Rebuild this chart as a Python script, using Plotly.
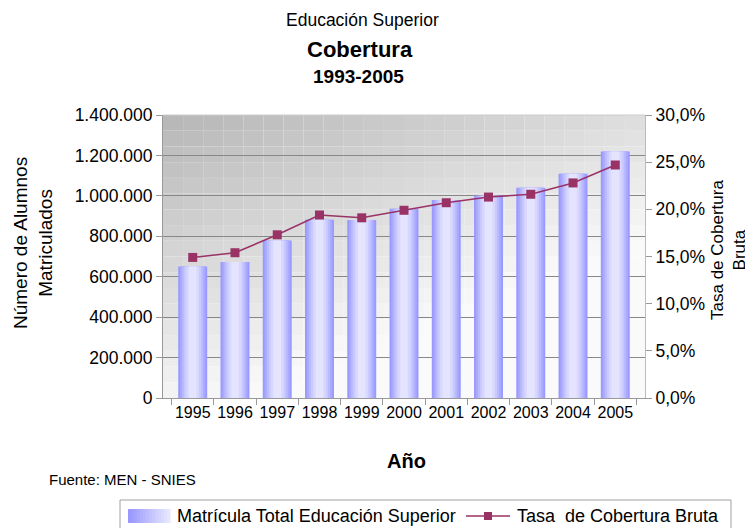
import plotly.graph_objects as go

years = ["1995", "1996", "1997", "1998", "1999", "2000", "2001", "2002", "2003", "2004", "2005"]
matricula = [651000, 673000, 779000, 882000, 880000, 936000, 980000, 1000000, 1040000, 1109000, 1219000]
tasa = [0.149, 0.154, 0.173, 0.194, 0.191, 0.199, 0.207, 0.213, 0.216, 0.228, 0.247]

FONT = "Liberation Sans"
OFF = 8  # default page body margin
W, H = 753 - OFF, 528 - OFF
# plot-area edges in screenshot pixels
L, R, T, B = 163, 645, 115, 398

def px(x):
    return (x - L) / (R - L)

def py(y):
    return 1 - (y - T) / (B - T)

fig = go.Figure()

# Diagonal gradient background for the plot area (grid of small rects)
nx, ny = 24, 18
for i in range(nx):
    for j in range(ny):
        u = (i + 0.5) / nx
        w = (j + 0.5) / ny
        v = int(min(250, 182 + 40 * u + 62 * w))
        fig.add_shape(type="rect", xref="x domain", yref="y domain",
                      x0=i / nx, x1=(i + 1) / nx, y0=1 - (j + 1) / ny, y1=1 - j / ny,
                      fillcolor=f"rgb({v},{v},{v})", line_width=0, layer="below")

# Layered bars to imitate cylinder shading
layers = [(0.685, "#9999ff"), (0.60, "#a9a9ff"), (0.50, "#babaff"), (0.40, "#cacaff"),
          (0.30, "#d8d8ff"), (0.18, "#e4e4ff")]
for k, (w, c) in enumerate(layers):
    fig.add_trace(go.Bar(x=years, y=matricula, width=w, marker=dict(color=c, line_width=0),
                         name="Matrícula Total Educación Superior", showlegend=False))

fig.add_trace(go.Scatter(x=years, y=tasa, yaxis="y2", mode="lines+markers",
                         name="Tasa  de Cobertura Bruta", showlegend=False,
                         line=dict(color="#993366", width=1.5),
                         marker=dict(symbol="square", size=9, color="#993366")))

fig.update_layout(
    width=W, height=H,
    margin=dict(l=L - OFF, r=753 - R, t=T - OFF, b=528 - B),
    paper_bgcolor="white", plot_bgcolor="rgba(0,0,0,0)",
    barmode="overlay",
    separators=",.",
    font=dict(family=FONT, color="black", size=16),
    xaxis=dict(type="category", showgrid=False, showline=True, linecolor="#999",
               ticks="outside", tickson="boundaries", ticklen=6, tickcolor="#999",
               tickfont=dict(size=16), tickangle=0, title=None, automargin=False),
    yaxis=dict(range=[0, 1400000], dtick=200000, tickformat=",d", showgrid=True,
               gridcolor="#888888", gridwidth=1, showline=True, linecolor="#999",
               ticks="outside", ticklen=6, tickcolor="#999", tickfont=dict(size=17.5),
               zeroline=False, title=None, automargin=False),
    yaxis2=dict(range=[0, 0.30], dtick=0.05, tickformat=".1%", overlaying="y", side="right",
                showgrid=False, showline=True, linecolor="#bbb", ticks="outside", ticklen=6,
                tickcolor="#999", tickfont=dict(size=17.5), zeroline=False, title=None,
                automargin=False),
    showlegend=False,
)

# top border of plot area
fig.add_shape(type="line", xref="x domain", yref="y domain", x0=0, x1=1, y0=1, y1=1,
              line=dict(color="#cccccc", width=1))

def text(t, x, y, size, anchor="center", angle=0):
    fig.add_annotation(text=t, xref="paper", yref="paper", x=px(x), y=py(y),
                       showarrow=False, font=dict(size=size, family=FONT, color="black"),
                       xanchor=anchor, yanchor="middle", textangle=angle)

text("Educación Superior", 362, 20, 17.5)
text("<b>Cobertura</b>", 360, 50, 22)
text("<b>1993-2005</b>", 358, 77, 19)
text("<b>Año</b>", 406, 461, 20)
text("Fuente: MEN - SNIES", 47, 479, 15, anchor="left")
text("Número de Alumnos<br>Matriculados", 33, 243, 19, angle=-90)
text("Tasa de Cobertura<br>Bruta", 728, 250, 17, angle=-90)

# Hand-drawn legend box
fig.add_shape(type="rect", xref="paper", yref="paper", x0=px(120), x1=px(731),
              y0=py(532), y1=py(500), line=dict(color="#a0a0a0", width=1), fillcolor="white")
sw_n = 14
for k in range(sw_n):
    f = k / (sw_n - 1)
    r = int(0x99 + (0xe6 - 0x99) * f)
    fig.add_shape(type="rect", xref="paper", yref="paper",
                  x0=px(128 + k * 3), x1=px(128 + (k + 1) * 3 + 0.5),
                  y0=py(523), y1=py(509), line_width=0, fillcolor=f"rgb({r},{r},255)")
text("Matrícula Total Educación Superior", 175, 516, 18, anchor="left")
fig.add_shape(type="line", xref="paper", yref="paper", x0=px(466), x1=px(510),
              y0=py(516), y1=py(516), line=dict(color="#993366", width=1.5))
fig.add_shape(type="rect", xref="paper", yref="paper", x0=px(484), x1=px(492),
              y0=py(520), y1=py(512), line_width=0, fillcolor="#993366")
text("Tasa  de Cobertura Bruta", 515, 516, 18, anchor="left")

fig.write_html("out.html")
